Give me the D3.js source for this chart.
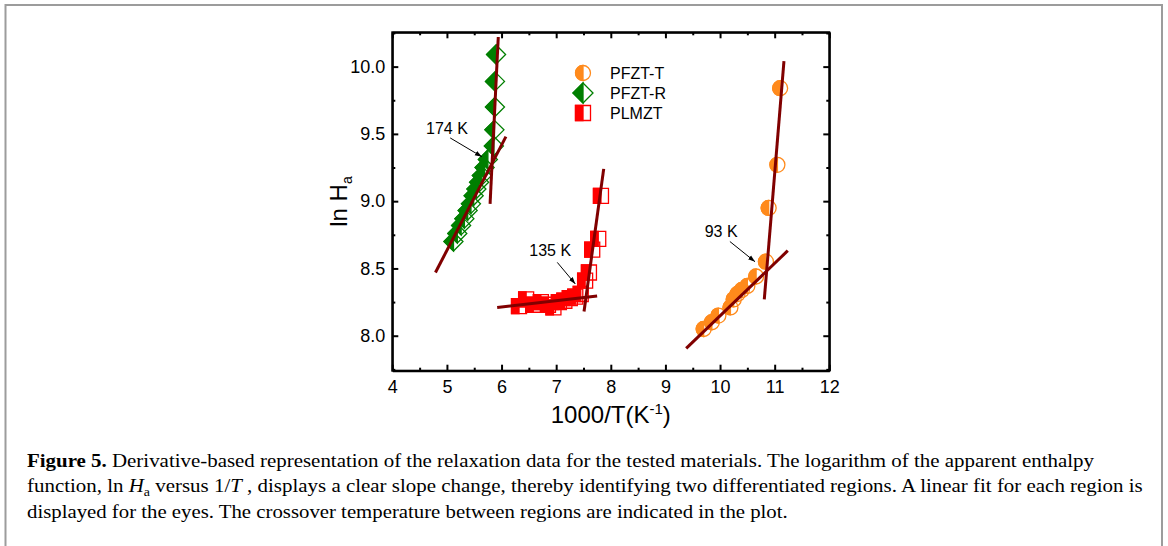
<!DOCTYPE html>
<html>
<head>
<meta charset="utf-8">
<script src="https://cdn.jsdelivr.net/npm/d3@7"></script>
<style>
  body { margin: 0; background: #fff; }
  svg { display: block; }
  .tick text { font-family: 'Liberation Sans', Arial, sans-serif; font-size: 18px; fill: #000; }
</style>
</head>
<body>
<script>
const W = 1168;
const H = 546;

// tick values
const xTicks = [4, 5, 6, 7, 8, 9, 10, 11, 12];
const xMinor = [4.5, 5.5, 6.5, 7.5, 8.5, 9.5, 10.5, 11.5];
const yTicks = [8.0, 8.5, 9.0, 9.5, 10.0];
const yMinor = [7.75, 8.25, 8.75, 9.25, 9.75, 10.25];

// PFZT-R (green diamonds)
const pfztR_x = [5.90, 5.88, 5.88, 5.87, 5.86, 5.75, 5.69, 5.64, 5.59, 5.54, 5.49, 5.44, 5.38, 5.32, 5.26, 5.19, 5.12];
const pfztR_y = [10.09, 9.89, 9.70, 9.53, 9.41, 9.31, 9.25, 9.19, 9.14, 9.09, 9.04, 8.98, 8.93, 8.87, 8.82, 8.76, 8.70];
// PLMZT (red squares)
const plmzt_x = [7.82, 7.77, 7.66, 7.60, 7.53, 7.45, 7.35, 7.25, 7.15, 7.05, 6.95, 6.85, 6.72, 6.58, 6.45, 6.32];
const plmzt_y = [9.04, 8.72, 8.64, 8.47, 8.41, 8.31, 8.29, 8.28, 8.26, 8.25, 8.21, 8.23, 8.25, 8.23, 8.27, 8.22];
// PFZT-T (orange circles)
const pfztT_x = [11.10, 11.05, 10.89, 10.84, 10.66, 10.50, 10.40, 10.32, 10.25, 10.19, 9.97, 9.85, 9.70];
const pfztT_y = [9.84, 9.27, 8.95, 8.55, 8.44, 8.37, 8.34, 8.31, 8.27, 8.21, 8.15, 8.10, 8.05];

// linear fits, [x0, y0, x1, y1]
const fits = [
  [4.79, 8.47, 6.08, 9.48],
  [5.79, 8.98, 5.94, 10.22],
  [5.92, 8.21, 7.75, 8.295],
  [7.51, 8.18, 7.87, 9.24],
  [9.38, 7.906, 11.24, 8.632],
  [10.81, 8.27, 11.17, 10.04]
];

// crossover labels: text position, arrow start, arrow end
const notes = ["174 K", "135 K", "93 K"];
const noteAt = [[5.00, 9.50], [6.89, 8.59], [10.02, 8.73]];
const arrowFrom = [[5.06, 9.47], [7.02, 8.545], [10.18, 8.70]];
const arrowTo = [[5.64, 9.33], [7.35, 8.385], [10.64, 8.55]];

const legendNames = ["PFZT-T", "PFZT-R", "PLMZT"];

const orange = "#ff8a1c", green = "#007f00", red = "#ff0000", fitColor = "#800000";
const sans = "'Liberation Sans', Arial, sans-serif";
const serif = "'Liberation Serif', 'Times New Roman', serif";

let svg = d3.select("body").append("svg")
    .attr("width", W)
    .attr("height", H);

svg.append("rect").attr("width", W).attr("height", H).attr("fill", "#fff");
// figure frame
svg.append("rect")
    .attr("x", 5.5).attr("y", 5)
    .attr("width", 1156.5).attr("height", 600)
    .attr("fill", "none")
    .attr("stroke", "#9c9c9c")
    .attr("stroke-width", 2);

let defs = svg.append("defs");
defs.append("marker")
    .attr("id", "ah")
    .attr("viewBox", "0 0 10 10")
    .attr("refX", 10).attr("refY", 5)
    .attr("markerWidth", 7).attr("markerHeight", 7)
    .attr("orient", "auto")
    .append("path").attr("d", "M0,1.5 L10,5 L0,8.5 Z").attr("fill", "#000");

let x = d3.scaleLinear().domain([4, 12]).range([392.3, 829.3]);
let y = d3.scaleLinear().domain([7.74, 10.255]).range([370.7, 32.3]);

const x0 = x.range()[0], x1 = x.range()[1];
const yb = y.range()[0], yt = y.range()[1];

function styleAxis(g) {
    g.select(".domain").attr("stroke-width", 2);
    g.selectAll(".tick line").attr("stroke-width", 2);
}

// bottom
svg.append("g").attr("transform", `translate(0,${yb})`)
    .call(d3.axisBottom(x).tickValues(xTicks).tickSize(-6).tickSizeOuter(0).tickPadding(10).tickFormat(d3.format("d")))
    .call(styleAxis);
svg.append("g").attr("transform", `translate(0,${yb})`)
    .call(d3.axisBottom(x).tickValues(xMinor).tickSize(-3).tickFormat(""))
    .call(g => g.select(".domain").remove()).call(styleAxis);
// top
svg.append("g").attr("transform", `translate(0,${yt})`)
    .call(d3.axisTop(x).tickValues(xTicks).tickSize(-6).tickSizeOuter(0).tickFormat(""))
    .call(styleAxis);
svg.append("g").attr("transform", `translate(0,${yt})`)
    .call(d3.axisTop(x).tickValues(xMinor).tickSize(-3).tickFormat(""))
    .call(g => g.select(".domain").remove()).call(styleAxis);
// left
svg.append("g").attr("transform", `translate(${x0},0)`)
    .call(d3.axisLeft(y).tickValues(yTicks).tickSize(-6).tickSizeOuter(0).tickPadding(7).tickFormat(d3.format(".1f")))
    .call(styleAxis);
svg.append("g").attr("transform", `translate(${x0},0)`)
    .call(d3.axisLeft(y).tickValues(yMinor).tickSize(-3).tickFormat(""))
    .call(g => g.select(".domain").remove()).call(styleAxis);
// right
svg.append("g").attr("transform", `translate(${x1},0)`)
    .call(d3.axisRight(y).tickValues(yTicks).tickSize(-6).tickSizeOuter(0).tickFormat(""))
    .call(styleAxis);
svg.append("g").attr("transform", `translate(${x1},0)`)
    .call(d3.axisRight(y).tickValues(yMinor).tickSize(-3).tickFormat(""))
    .call(g => g.select(".domain").remove()).call(styleAxis);
// close the frame corners
svg.append("rect").attr("x", x0).attr("y", yt).attr("width", x1 - x0).attr("height", yb - yt)
    .attr("fill", "none").attr("stroke", "#000").attr("stroke-width", 2);

// axis titles
svg.append("text")
    .attr("x", (x0 + x1) / 2).attr("y", 423)
    .attr("text-anchor", "middle")
    .style("font-family", sans).style("font-size", "24px")
    .html('1000/T(K<tspan dy="-9" font-size="15">-1</tspan><tspan dy="9">)</tspan>');
svg.append("text")
    .attr("transform", `translate(347,${(yt + yb) / 2}) rotate(-90)`)
    .attr("text-anchor", "middle")
    .style("font-family", sans).style("font-size", "24px")
    .html('ln H<tspan dy="5" font-size="14">a</tspan>');

// half filled marker shapes
const shapes = {
    circle: { full: r => `M${-r},0A${r},${r} 0 1,1 ${r},0A${r},${r} 0 1,1 ${-r},0Z`,
              half: r => `M0,${-r}A${r},${r} 0 0,0 0,${r}Z`, size: 7.5 },
    diamond: { full: r => `M0,${-r}L${r},0L0,${r}L${-r},0Z`,
               half: r => `M0,${-r}L${-r},0L0,${r}Z`, size: 9.5 },
    square: { full: r => `M${-r},${-r}H${r}V${r}H${-r}Z`,
              half: r => `M${-r},${-r}H0V${r}H${-r}Z`, size: 7.5 }
};

function drawSeries(xs, ys, shape, color) {
    let s = shapes[shape];
    let pts = xs.map((v, i) => ({ x: v, y: ys[i] }));
    let g = svg.append("g");
    g.selectAll("path.o").data(pts).enter().append("path")
        .attr("class", "o")
        .attr("transform", d => `translate(${x(d.x)},${y(d.y)})`)
        .attr("d", s.full(s.size))
        .attr("fill", "none").attr("stroke", color).attr("stroke-width", 1.3);
    g.selectAll("path.f").data(pts).enter().append("path")
        .attr("class", "f")
        .attr("transform", d => `translate(${x(d.x)},${y(d.y)})`)
        .attr("d", s.half(s.size))
        .attr("fill", color).attr("stroke", color).attr("stroke-width", 1.3);
}

drawSeries(pfztR_x, pfztR_y, "diamond", green);
drawSeries(plmzt_x, plmzt_y, "square", red);
drawSeries(pfztT_x, pfztT_y, "circle", orange);

// fit lines
svg.append("g").selectAll("line").data(fits).enter().append("line")
    .attr("x1", d => x(d[0])).attr("y1", d => y(d[1]))
    .attr("x2", d => x(d[2])).attr("y2", d => y(d[3]))
    .attr("stroke", fitColor).attr("stroke-width", 3);

// crossover annotations
let ann = svg.append("g");
ann.selectAll("text").data(notes).enter().append("text")
    .attr("x", (d, i) => x(noteAt[i][0])).attr("y", (d, i) => y(noteAt[i][1]))
    .attr("text-anchor", "middle")
    .style("font-family", sans).style("font-size", "16px")
    .text(d => d);
ann.selectAll("line").data(notes).enter().append("line")
    .attr("x1", (d, i) => x(arrowFrom[i][0])).attr("y1", (d, i) => y(arrowFrom[i][1]))
    .attr("x2", (d, i) => x(arrowTo[i][0])).attr("y2", (d, i) => y(arrowTo[i][1]))
    .attr("stroke", "#000").attr("stroke-width", 1)
    .attr("marker-end", "url(#ah)");

// legend
const legendShapes = ["circle", "diamond", "square"];
const legendColors = [orange, green, red];
let leg = svg.append("g").attr("transform", "translate(583,73)");
legendNames.forEach((name, i) => {
    let s = shapes[legendShapes[i]];
    let r = legendShapes[i] == "diamond" ? 10 : 7.5;
    let row = leg.append("g").attr("transform", `translate(0,${i * 20})`);
    row.append("path").attr("d", s.full(r)).attr("fill", "none")
        .attr("stroke", legendColors[i]).attr("stroke-width", 1.3);
    row.append("path").attr("d", s.half(r)).attr("fill", legendColors[i])
        .attr("stroke", legendColors[i]).attr("stroke-width", 1.3);
    row.append("text").attr("x", 27).attr("y", 6)
        .style("font-family", sans).style("font-size", "16px")
        .text(name);
});

// caption
const captionLines = [
    '<tspan font-weight="bold">Figure 5.</tspan> Derivative-based representation of the relaxation data for the tested materials. The logarithm of the apparent enthalpy',
    'function, ln <tspan font-style="italic">H</tspan><tspan dy="4" font-size="12">a</tspan><tspan dy="-4"> versus 1/</tspan><tspan font-style="italic">T</tspan> , displays a clear slope change, thereby identifying two differentiated regions. A linear fit for each region is',
    'displayed for the eyes. The crossover temperature between regions are indicated in the plot.'
];
const captionWidth = [1068, 1116, 761];
const captionBase = [467, 492, 518];
captionLines.forEach((l, i) => {
    let g = svg.append("g");
    let t = g.append("text")
        .style("font-family", serif).style("font-size", "18px")
        .html(l);
    let wNat = t.node().getComputedTextLength();
    g.attr("transform", `translate(27,${captionBase[i]}) scale(${captionWidth[i] / wNat},1)`);
});
</script>
</body>
</html>
